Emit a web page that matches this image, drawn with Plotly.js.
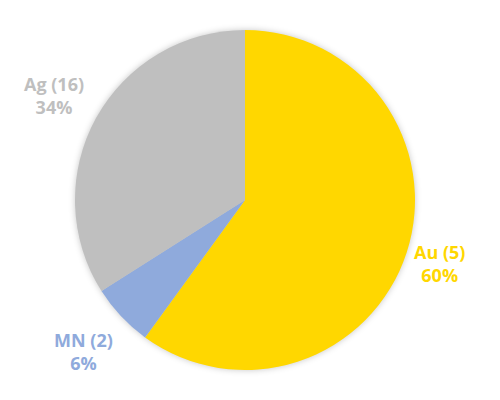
<!DOCTYPE html>
<html><head><meta charset="utf-8">
<script src="https://cdn.plot.ly/plotly-3.0.1.min.js"></script>
<style>html,body{margin:0;padding:0;background:#fff}#chart{width:500px;height:400px}
.pielayer .trace{filter:drop-shadow(0px 0px 3px rgba(0,0,0,0.22))}</style>
</head><body><div id="chart"></div>
<script>
const categories = ["Au", "MN", "Ag"];
const counts = [5, 2, 16];
const percents = [60, 6, 34];
const colors = ["#FFD700", "#8FAADC", "#BFBFBF"];

const cx = 245, cy = 200, R = 170, W = 500, H = 400;
const total = percents.reduce((a, b) => a + b, 0);
const rf = [1.2, 1.3, 1.28];
let cum = 0;
const annotations = categories.map((c, i) => {
  const mid = (cum + percents[i] / 2) / total * 2 * Math.PI;
  cum += percents[i];
  const r = R * rf[i];
  const x = cx + r * Math.sin(mid), y = cy - r * Math.cos(mid);
  return {
    x: x / W, y: 1 - y / H, xref: 'paper', yref: 'paper',
    xanchor: 'center', yanchor: 'middle', showarrow: false,
    text: c + ' (' + counts[i] + ')<br>' + percents[i] + '%',
    font: {family: 'Open Sans', size: 18, color: colors[i], weight: 'bold'}
  };
});

const trace = {
  type: 'pie', values: percents, labels: categories,
  sort: false, direction: 'clockwise', rotation: 0,
  marker: {colors: colors, line: {width: 0}},
  textinfo: 'none', hoverinfo: 'none',
  domain: {x: [(cx - R) / W, (cx + R) / W], y: [1 - (cy + R) / H, 1 - (cy - R) / H]}
};
Plotly.newPlot('chart', [trace], {
  width: W, height: H, margin: {l: 0, r: 0, t: 0, b: 0},
  showlegend: false, paper_bgcolor: '#fff', annotations: annotations
}, {displayModeBar: false, staticPlot: true});
</script></body></html>
